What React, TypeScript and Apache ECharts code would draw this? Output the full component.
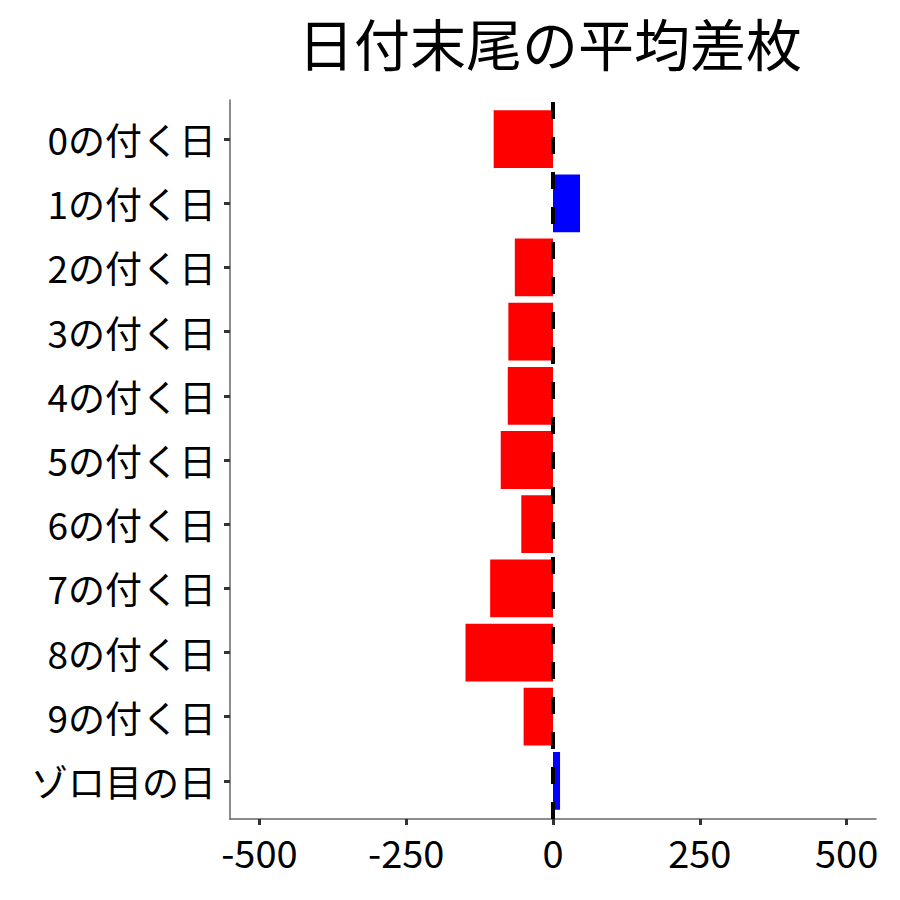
import React, { useEffect, useRef } from "react";
import * as echarts from "echarts";

const categories = [
  "0の付く日",
  "1の付く日",
  "2の付く日",
  "3の付く日",
  "4の付く日",
  "5の付く日",
  "6の付く日",
  "7の付く日",
  "8の付く日",
  "9の付く日",
  "ゾロ目の日",
];
const values = [-101, 46, -65, -76, -77, -89, -54, -107, -149, -50, 12];
const xTicks = [-500, -250, 0, 250, 500];
const zeroLine = [
  [0, 0],
  [0, 1],
];
const title = "日付末尾の平均差枚";

const FONT = "Noto Sans CJK JP";

export default function App() {
  const ref = useRef<HTMLDivElement>(null);
  useEffect(() => {
    const chart = echarts.init(ref.current!, null, { renderer: "svg" });
    chart.setOption({
      animation: false,
      backgroundColor: "#ffffff",
      title: {
        text: title,
        left: 545,
        top: 8,
        textAlign: "center",
        textStyle: { fontFamily: FONT, fontSize: 56, fontWeight: "normal", color: "#000" },
      },
      grid: [
        { left: 230, right: 24, top: 107, bottom: 87, containLabel: false },
        { left: 230, right: 24, top: 100, bottom: 81, containLabel: false },
      ],
      xAxis: [
        {
          gridIndex: 0,
          type: "value",
          min: -550,
          max: 550,
          show: false,
          splitLine: { show: false },
        },
        {
          gridIndex: 1,
          type: "value",
          min: -550,
          max: 550,
          splitLine: { show: false },
          axisLine: { show: true, onZero: false, lineStyle: { color: "#666", width: 1.5 } },
          axisTick: { show: true, length: 6, lineStyle: { color: "#333", width: 3 }, customValues: xTicks },
          axisLabel: {
            customValues: xTicks,
            fontFamily: FONT,
            fontSize: 38,
            color: "#000",
            margin: 13,
          },
        },
      ],
      yAxis: [
        {
          gridIndex: 0,
          type: "category",
          data: categories,
          inverse: true,
          axisLine: { show: false, onZero: false },
          axisTick: { show: true, alignWithLabel: true, length: 6, lineStyle: { color: "#333", width: 3 } },
          axisLabel: { fontFamily: FONT, fontSize: 37, color: "#000", margin: 14 },
          splitLine: { show: false },
        },
        {
          gridIndex: 1,
          type: "value",
          min: 0,
          max: 1,
          axisLine: { show: true, onZero: false, lineStyle: { color: "#666", width: 1.5 } },
          axisTick: { show: false },
          axisLabel: { show: false },
          splitLine: { show: false },
        },
      ],
      series: [
        {
          type: "bar",
          xAxisIndex: 0,
          yAxisIndex: 0,
          data: values,
          barCategoryGap: "10%",
          itemStyle: {
            color: (p: any) => (p.value < 0 ? "#ff0000" : "#0000ff"),
          },
        },
        {
          type: "line",
          xAxisIndex: 1,
          yAxisIndex: 1,
          data: zeroLine,
          symbol: "none",
          silent: true,
          z: 10,
          lineStyle: { color: "#000", width: 4, type: [17, 18] },
        },
      ],
    });
    return () => chart.dispose();
  }, []);
  return <div ref={ref} style={{ width: 900, height: 900, margin: -8 }} />;
}
